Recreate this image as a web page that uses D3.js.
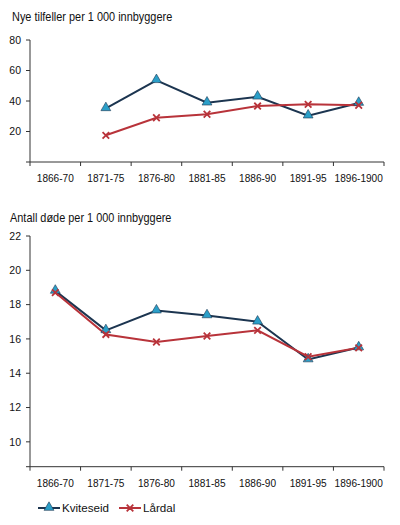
<!DOCTYPE html>
<html>
<head>
<meta charset="utf-8">
<script src="https://cdn.jsdelivr.net/npm/d3@7"></script>
<style>
  body { margin: 0; background: #fff; }
  svg text { font-family: "Liberation Sans", Arial, sans-serif; fill: #111; }
</style>
</head>
<body>
<div id="chart"></div>
<script>
const periods = ["1866-70", "1871-75", "1876-80", "1881-85", "1886-90", "1891-95", "1896-1900"];

// Nye tilfeller per 1 000 innbyggere
const casesKviteseid = [null, 35.2, 53.6, 38.9, 42.8, 30.4, 38.7];
const casesLardal = [null, 17.5, 29.0, 31.3, 36.7, 37.8, 37.2];
const casesTicks = [20, 40, 60, 80];

// Antall døde per 1 000 innbyggere
const deathsKviteseid = [18.8, 16.5, 17.65, 17.37, 17.0, 14.8, 15.5];
const deathsLardal = [18.7, 16.26, 15.82, 16.17, 16.5, 14.96, 15.48];
const deathsTicks = [10, 12, 14, 16, 18, 20, 22];

const seriesNames = ["Kviteseid", "Lårdal"];

const blueLine = "#1c3550";
const blueFill = "#2b9fc8";
const redLine = "#b8333a";

const svg = d3.select("#chart")
    .append("svg")
    .attr("width", 400)
    .attr("height", 525);

const x = d3.scaleBand()
    .domain(periods)
    .range([30, 384])
    .padding(0);

// tekst litt sammenpresset, som i originalen
function squeezed(sel, px, py, sx) {
    return sel.attr("transform", (d, i) => `translate(${px(d, i)},${py(d, i)}) scale(${sx},1)`);
}

function drawPanel(opts) {
    const g = svg.append("g");
    const y = d3.scaleLinear().domain(opts.domain).range(opts.range);

    // tittel
    g.append("text")
        .attr("font-size", "12px")
        .call(squeezed, () => opts.titleX, () => opts.titleY, 0.91)
        .text(opts.title);

    // y-akse
    g.append("line")
        .attr("x1", 30).attr("x2", 30)
        .attr("y1", opts.range[1]).attr("y2", opts.range[0])
        .attr("stroke", "#333").attr("stroke-width", 1);

    g.selectAll(".ytick")
        .data(opts.ticks)
        .enter()
        .append("line")
        .attr("x1", 26).attr("x2", 30)
        .attr("y1", d => y(d)).attr("y2", d => y(d))
        .attr("stroke", "#333");

    g.selectAll(".ylabel")
        .data(opts.ticks)
        .enter()
        .append("text")
        .attr("x", 21)
        .attr("y", d => y(d) + 3.8)
        .attr("text-anchor", "end")
        .attr("font-size", "10.5px")
        .text(d => d);

    // x-akse
    const base = opts.range[0];
    g.append("line")
        .attr("x1", 26).attr("x2", 384)
        .attr("y1", base).attr("y2", base)
        .attr("stroke", "#333");

    const edges = periods.map(p => x(p)).concat([x.range()[1]]);
    g.selectAll(".xtick")
        .data(edges)
        .enter()
        .append("line")
        .attr("x1", d => d).attr("x2", d => d)
        .attr("y1", base).attr("y2", base + 4)
        .attr("stroke", "#333");

    g.selectAll(".xlabel")
        .data(periods)
        .enter()
        .append("text")
        .attr("text-anchor", "middle")
        .attr("font-size", "11.6px")
        .call(squeezed, d => x(d) + x.bandwidth() / 2, () => base + 20, 0.87)
        .text(d => d);

    const cx = (d, i) => x(periods[i]) + x.bandwidth() / 2;
    const line = d3.line()
        .defined(d => d != null)
        .x(cx)
        .y(d => y(d));

    // Kviteseid
    g.append("path")
        .attr("d", line(opts.kv))
        .attr("fill", "none")
        .attr("stroke", blueLine)
        .attr("stroke-width", 2);

    // Lårdal
    g.append("path")
        .attr("d", line(opts.la))
        .attr("fill", "none")
        .attr("stroke", redLine)
        .attr("stroke-width", 2);

    const tri = d3.symbol().type(d3.symbolTriangle).size(42);
    g.selectAll(".kv")
        .data(opts.kv.map((v, i) => [v, i]).filter(d => d[0] != null))
        .enter()
        .append("path")
        .attr("d", tri)
        .attr("transform", d => `translate(${cx(null, d[1])},${y(d[0]) - 0.5})`)
        .attr("fill", blueFill)
        .attr("stroke", blueLine)
        .attr("stroke-width", 0.6);

    const cross = d3.symbol().type(d3.symbolX).size(30);
    g.selectAll(".la")
        .data(opts.la.map((v, i) => [v, i]).filter(d => d[0] != null))
        .enter()
        .append("path")
        .attr("d", cross)
        .attr("transform", d => `translate(${cx(null, d[1])},${y(d[0])})`)
        .attr("fill", "none")
        .attr("stroke", redLine)
        .attr("stroke-width", 1.8);
}

drawPanel({
    title: "Nye tilfeller per 1 000 innbyggere",
    titleX: 12,
    titleY: 21,
    domain: [0, 80],
    range: [162, 40],
    ticks: casesTicks,
    kv: casesKviteseid,
    la: casesLardal
});

drawPanel({
    title: "Antall døde per 1 000 innbyggere",
    titleX: 10,
    titleY: 222,
    domain: [8.55, 22],
    range: [466.7, 236],
    ticks: deathsTicks,
    kv: deathsKviteseid,
    la: deathsLardal
});

// tegnforklaring
const legend = svg.append("g").attr("transform", "translate(0,508)");
const legendItems = [
    { name: seriesNames[0], x0: 38, color: blueLine, marker: "tri" },
    { name: seriesNames[1], x0: 119, color: redLine, marker: "x" }
];
legendItems.forEach(item => {
    legend.append("line")
        .attr("x1", item.x0).attr("x2", item.x0 + 22)
        .attr("y1", 0).attr("y2", 0)
        .attr("stroke", item.color)
        .attr("stroke-width", 2);
    if (item.marker === "tri") {
        legend.append("path")
            .attr("d", d3.symbol().type(d3.symbolTriangle).size(42))
            .attr("transform", `translate(${item.x0 + 11},-0.5)`)
            .attr("fill", blueFill)
            .attr("stroke", blueLine)
            .attr("stroke-width", 0.6);
    } else {
        legend.append("path")
            .attr("d", d3.symbol().type(d3.symbolX).size(30))
            .attr("transform", `translate(${item.x0 + 11},0)`)
            .attr("fill", "none")
            .attr("stroke", redLine)
            .attr("stroke-width", 1.8);
    }
    legend.append("text")
        .attr("x", item.x0 + 24)
        .attr("y", 4.2)
        .attr("font-size", "11.6px")
        .text(item.name);
});
</script>
</body>
</html>
